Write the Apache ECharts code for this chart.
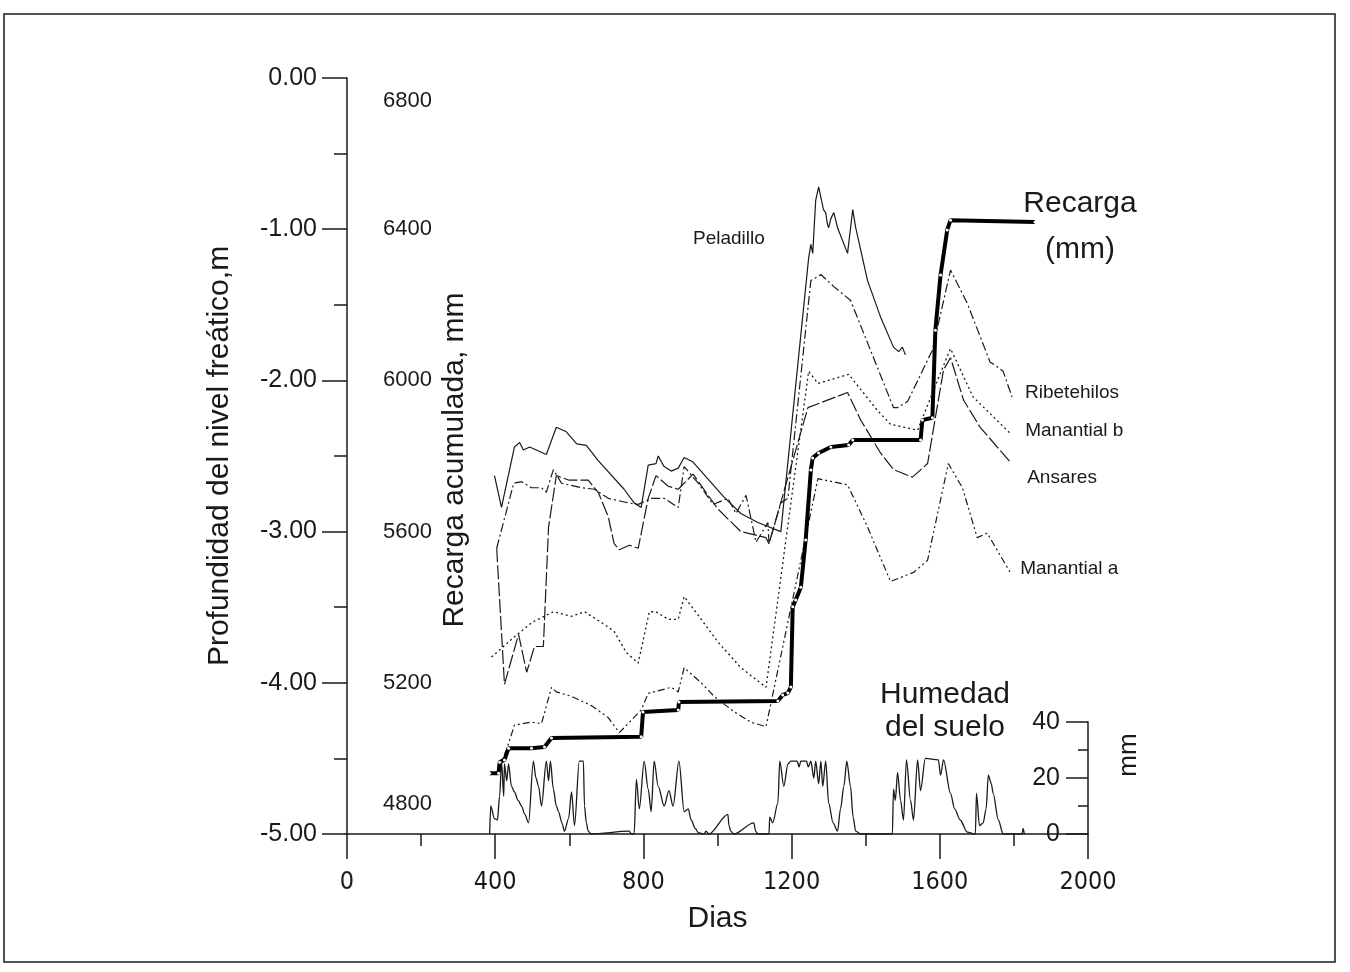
<!DOCTYPE html>
<html lang="es">
<head>
    <meta charset="UTF-8">
    <title>Recarga y nivel freático</title>
    <style>
        * { padding: 0; margin: 0; }
        html, body { width: 100%; height: 100%; background: #fff; }
        #chart { width: 1350px; height: 972px; }
    </style>
</head>
<body>
    <div id="chart"></div>
    <script src="https://cdn.jsdelivr.net/npm/echarts@6/dist/echarts.min.js"></script>
    <script type="text/javascript">
        // [dia, profundidad del nivel freatico (m)]
        const peladillo = [[398,-2.63],[417,-2.84],[452,-2.44],[466,-2.41],[476,-2.46],[493,-2.44],[538,-2.49],[565,-2.31],[592,-2.34],[620,-2.42],[646,-2.43],[678,-2.53],[748,-2.72],[775,-2.81],[794,-2.84],[813,-2.56],[834,-2.55],[840,-2.50],[856,-2.57],[875,-2.60],[894,-2.58],[910,-2.51],[934,-2.54],[1017,-2.77],[1063,-2.88],[1109,-2.94],[1171,-3.00],[1246,-1.19],[1252,-1.10],[1257,-1.16],[1265,-0.81],[1273,-0.72],[1279,-0.79],[1286,-0.87],[1292,-0.89],[1297,-0.97],[1300,-0.99],[1306,-0.93],[1314,-0.89],[1319,-0.94],[1324,-0.99],[1351,-1.16],[1365,-0.87],[1373,-0.99],[1405,-1.34],[1440,-1.58],[1475,-1.78],[1489,-1.81],[1499,-1.78],[1507,-1.83]];
        const ribetehilos = [[404,-3.11],[450,-2.68],[471,-2.67],[498,-2.71],[525,-2.71],[538,-2.74],[557,-2.59],[579,-2.68],[633,-2.71],[668,-2.72],[705,-2.78],[759,-2.81],[786,-2.82],[821,-2.78],[856,-2.78],[894,-2.84],[910,-2.57],[948,-2.68],[988,-2.82],[1028,-2.78],[1050,-2.88],[1077,-2.76],[1104,-3.07],[1136,-2.94],[1139,-3.08],[1171,-2.81],[1190,-2.78],[1252,-1.34],[1279,-1.30],[1314,-1.38],[1359,-1.47],[1475,-2.18],[1486,-2.18],[1513,-2.14],[1580,-1.80],[1629,-1.27],[1674,-1.49],[1736,-1.88],[1750,-1.90],[1771,-1.94],[1795,-2.11]];
        const manantialB = [[390,-3.83],[450,-3.70],[500,-3.60],[557,-3.53],[606,-3.56],[641,-3.53],[686,-3.60],[721,-3.66],[754,-3.80],[786,-3.87],[816,-3.53],[834,-3.53],[867,-3.58],[894,-3.58],[910,-3.43],[950,-3.56],[1001,-3.73],[1063,-3.90],[1131,-4.03],[1246,-1.94],[1271,-2.02],[1354,-1.96],[1432,-2.20],[1467,-2.29],[1540,-2.33],[1602,-1.95],[1629,-1.79],[1690,-2.11],[1790,-2.35]];
        const ansares = [[404,-3.11],[425,-4.01],[463,-3.68],[485,-3.93],[506,-3.76],[530,-3.76],[544,-2.97],[565,-2.63],[600,-2.66],[651,-2.66],[678,-2.74],[705,-2.90],[721,-3.08],[735,-3.12],[762,-3.09],[786,-3.11],[813,-2.78],[834,-2.63],[867,-2.70],[894,-2.72],[934,-2.62],[1001,-2.85],[1063,-3.00],[1131,-3.04],[1139,-3.08],[1244,-2.18],[1351,-2.08],[1386,-2.26],[1440,-2.48],[1475,-2.59],[1526,-2.64],[1567,-2.55],[1610,-1.93],[1629,-1.85],[1664,-2.13],[1709,-2.31],[1790,-2.54]];
        const manantialA = [[404,-4.60],[431,-4.44],[452,-4.28],[498,-4.26],[525,-4.27],[552,-4.03],[565,-4.06],[606,-4.09],[659,-4.15],[705,-4.23],[735,-4.33],[794,-4.18],[813,-4.07],[875,-4.03],[894,-4.06],[910,-3.90],[956,-4.00],[991,-4.09],[1044,-4.19],[1090,-4.26],[1131,-4.29],[1271,-2.65],[1351,-2.69],[1405,-2.97],[1467,-3.33],[1529,-3.27],[1567,-3.19],[1623,-2.55],[1661,-2.71],[1701,-3.04],[1728,-3.01],[1790,-3.27]];

        // [dia, recarga acumulada (mm)]
        const recarga = [[385,4961],[409,4961],[412,4990],[425,4996],[436,5027],[498,5027],[533,5030],[552,5054],[794,5057],[799,5123],[894,5128],[896,5149],[1163,5152],[1176,5168],[1190,5173],[1198,5189],[1203,5401],[1211,5419],[1225,5453],[1238,5578],[1252,5763],[1257,5795],[1273,5808],[1306,5824],[1354,5829],[1365,5842],[1548,5842],[1553,5895],[1580,5901],[1588,6133],[1602,6279],[1620,6398],[1629,6424],[1857,6419]];

        // [dia, humedad del suelo (mm)]
        const humedad = [[385,0],[388,10],[398,5.5],[406,5],[412,13.5],[417,26],[423,13.5],[425,25],[431,19],[436,25],[444,17],[452,15],[462,12],[471,10],[480,7],[490,4],[503,26],[510,20],[517,17],[525,10],[538,26],[544,19],[549,26],[557,16],[565,10],[571,8],[580,4],[587,1],[598,5.5],[606,15],[614,3],[627,26],[632,26],[638,26],[641,10],[646,4],[651,1],[659,0],
            [762,1],[767,0],[775,0],[781,19.5],[789,9],[802,26],[813,16],[821,8],[829,26],[840,17],[856,10],[869,15.5],[880,10],[896,26],[910,8],[921,9],[929,5],[940,2],[948,0.5],[964,0],[969,1],[977,0],[1028,7],[1031,3],[1036,1],[1044,0],[1098,4],[1103,1],[1109,0],
            [1139,0],[1141,6],[1149,4],[1163,11],[1168,26],[1179,17],[1190,25],[1198,26],[1215,26],[1220,24],[1225,26],[1240,26],[1245,24],[1252,26],[1260,20],[1265,26],[1273,18],[1279,26],[1284,17],[1292,26],[1300,11],[1312,4],[1324,1],[1332,9],[1341,17],[1349,26],[1359,17],[1366,6],[1373,1],[1386,0],
            [1472,0],[1475,16],[1480,12],[1486,22],[1494,12],[1502,5],[1510,26.5],[1521,12],[1529,5],[1540,26.5],[1548,15.5],[1561,27],[1596,26.5],[1602,21],[1610,26.5],[1629,14.5],[1640,9],[1655,5],[1674,0.7],[1696,0],[1699,14.5],[1707,3],[1717,4],[1725,9],[1731,21],[1739,18],[1744,14.5],[1758,5],[1771,0],[1822,0],[1825,2],[1828,0]];

        const recargaTicks = [4800, 5200, 5600, 6000, 6400, 6800];

        const ink = '#1a1a1a';
        const sans = '"Liberation Sans", Arial, sans-serif';
        const narrow = '"Liberation Sans Narrow", "Arial Narrow", "DejaVu Sans Condensed", "Liberation Sans", sans-serif';

        const wellLabel = (name, offset) => ({
            show: true,
            formatter: name,
            color: ink,
            fontFamily: sans,
            fontSize: 19,
            distance: 5,
            offset: offset
        });

        const chart = echarts.init(document.getElementById('chart'));
        const option = {
            backgroundColor: '#fff',
            animation: false,
            grid: [
                { left: 347, right: 262, top: 78, bottom: 138 },
                { left: 347, right: 262, top: 722, bottom: 138 }
            ],
            xAxis: [
                {
                    gridIndex: 0, type: 'value', min: 0, max: 2000, interval: 400, position: 'bottom',
                    name: 'Dias', nameLocation: 'middle', nameGap: 70,
                    nameTextStyle: { color: ink, fontFamily: sans, fontSize: 30 },
                    axisLine: { onZero: false, lineStyle: { color: ink, width: 1.5 } },
                    axisTick: { length: 25, lineStyle: { color: ink, width: 1.5 } },
                    minorTick: { show: true, splitNumber: 2, length: 12, lineStyle: { color: ink, width: 1.5 } },
                    axisLabel: { margin: 36, color: ink, fontFamily: narrow, fontSize: 25, formatter: v => String(v) },
                    splitLine: { show: false }
                },
                { gridIndex: 1, type: 'value', min: 0, max: 2000, show: false }
            ],
            yAxis: [
                {
                    gridIndex: 0, type: 'value', min: -5, max: 0, interval: 1, position: 'left',
                    name: 'Profundidad del nivel freático,m', nameLocation: 'middle', nameGap: 112, nameRotate: 90,
                    nameTextStyle: { color: ink, fontFamily: sans, fontSize: 30 },
                    axisLine: { show: true, onZero: false, lineStyle: { color: ink, width: 1.5 } },
                    axisTick: { show: true, length: 25, lineStyle: { color: ink, width: 1.5 } },
                    minorTick: { show: true, splitNumber: 2, length: 13, lineStyle: { color: ink, width: 1.5 } },
                    axisLabel: { margin: 30, color: ink, fontFamily: sans, fontSize: 25, formatter: v => v.toFixed(2) },
                    splitLine: { show: false }
                },
                {
                    gridIndex: 0, type: 'value', min: 4800, max: 6800, position: 'left',
                    axisLine: { show: false, onZero: false },
                    axisTick: { show: false },
                    axisLabel: {
                        inside: true, margin: 36, color: ink, fontFamily: sans, fontSize: 22,
                        customValues: recargaTicks,
                        formatter: v => v === 6800 ? '{t|6800}' : (v === 4800 ? '{b|4800}' : String(v)),
                        rich: {
                            t: { padding: [46, 0, 0, 0], fontSize: 22, fontFamily: sans, color: ink },
                            b: { padding: [0, 0, 60, 0], fontSize: 22, fontFamily: sans, color: ink }
                        }
                    },
                    splitLine: { show: false }
                },
                {
                    gridIndex: 1, type: 'value', min: 0, max: 40, interval: 20, position: 'right',
                    name: 'mm', nameLocation: 'middle', nameGap: 28, nameRotate: 90,
                    nameTextStyle: { color: ink, fontFamily: sans, fontSize: 26, padding: [0, 0, 0, 46] },
                    axisLine: { show: true, onZero: false, lineStyle: { color: ink, width: 1.5 } },
                    axisTick: { show: true, inside: true, length: 22, lineStyle: { color: ink, width: 1.5 } },
                    minorTick: { show: true, splitNumber: 2, length: 10, lineStyle: { color: ink, width: 1.5 } },
                    axisLabel: { inside: true, margin: 28, color: ink, fontFamily: sans, fontSize: 25 },
                    splitLine: { show: false }
                }
            ],
            series: [
                {
                    name: 'Peladillo', type: 'line', data: peladillo, symbol: 'none',
                    lineStyle: { color: ink, width: 1.2 }
                },
                {
                    name: 'Ribetehilos', type: 'line', data: ribetehilos, symbol: 'none',
                    lineStyle: { color: ink, width: 1.2, type: [9, 3, 2, 3] },
                    endLabel: wellLabel('Ribetehilos', [8, -4])
                },
                {
                    name: 'Manantial b', type: 'line', data: manantialB, symbol: 'none',
                    lineStyle: { color: ink, width: 1.3, type: [2, 3] },
                    endLabel: wellLabel('Manantial b', [10, -3])
                },
                {
                    name: 'Ansares', type: 'line', data: ansares, symbol: 'none',
                    lineStyle: { color: ink, width: 1.2, type: [14, 3] },
                    endLabel: wellLabel('Ansares', [12, 16])
                },
                {
                    name: 'Manantial a', type: 'line', data: manantialA, symbol: 'none',
                    lineStyle: { color: ink, width: 1.2, type: [7, 3, 2, 3, 2, 3] },
                    endLabel: wellLabel('Manantial a', [5, -4])
                },
                {
                    name: 'Recarga', type: 'line', yAxisIndex: 1, data: recarga,
                    symbol: 'circle', symbolSize: 3, showSymbol: true,
                    itemStyle: { color: '#fff', borderWidth: 0 },
                    lineStyle: { color: '#000', width: 4 }
                },
                {
                    name: 'Humedad', type: 'line', xAxisIndex: 1, yAxisIndex: 2, data: humedad, symbol: 'none',
                    smooth: 0.3, smoothMonotone: 'x',
                    lineStyle: { color: ink, width: 1.3 }
                }
            ],
            graphic: [
                {
                    type: 'rect', silent: true,
                    shape: { x: 4, y: 14, width: 1331, height: 948 },
                    style: { fill: 'none', stroke: ink, lineWidth: 1.5 }
                },
                {
                    type: 'text', x: 455, y: 460, rotation: Math.PI / 2,
                    style: { text: 'Recarga acumulada, mm', fill: ink, font: '30px ' + sans, align: 'center', verticalAlign: 'middle' }
                },
                {
                    type: 'text', left: 693, top: 229,
                    style: { text: 'Peladillo', fill: ink, font: '19px ' + sans }
                },
                {
                    type: 'text', x: 1080, y: 181,
                    style: { text: 'Recarga\n(mm)', fill: ink, font: '30px ' + sans, align: 'center', lineHeight: 46 }
                },
                {
                    type: 'text', x: 945, y: 678,
                    style: { text: 'Humedad\ndel suelo', fill: ink, font: '30px ' + sans, align: 'center', lineHeight: 33 }
                }
            ]
        };
        chart.setOption(option);
    </script>
</body>
</html>
